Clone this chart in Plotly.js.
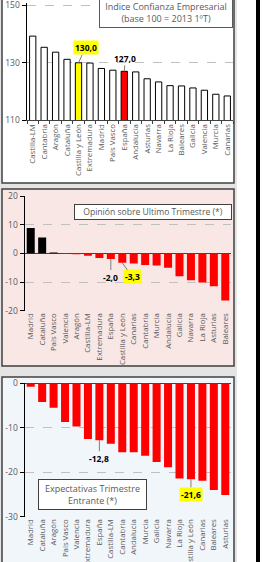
<!DOCTYPE html>
<html>
<head>
<meta charset="utf-8">
<script src="https://cdn.plot.ly/plotly-3.0.1.min.js"></script>
<style>
html,body{margin:0;padding:0;background:#fff;}
#chart{width:262px;height:562px;}
</style>
</head>
<body>
<div id="chart"></div>
<script>
// ---- Data ----
const categories1 = ['Castilla-LM','Cantabria','Aragón','Cataluña','Castilla y León','Extremadura','Madrid','País Vasco','España','Andalucía','Asturias','Navarra','La Rioja','Baleares','Galicia','Valencia','Murcia','Canarias'];
const values1 = [139.3,135.4,133.7,131.2,130.0,129.9,128.0,127.4,127.0,126.8,124.4,123.3,122.0,121.9,121.2,120.4,119.0,118.4];

const categories2 = ['Madrid','Cataluña','País Vasco','Valencia','Aragón','Castilla-LM','Extremadura','España','Castilla y León','Canarias','Cantabria','Murcia','Andalucía','Galicia','Navarra','La Rioja','Asturias','Baleares'];
const values2 = [8.8,5.5,0.3,-0.2,-0.3,-0.8,-1.6,-2.0,-3.3,-3.5,-4.1,-4.2,-5.0,-8.0,-9.4,-10.2,-11.5,-16.4];

const categories3 = ['Madrid','Cataluña','Aragón','País Vasco','Valencia','Extremadura','España','Castilla-LM','Cantabria','Andalucía','Murcia','Galicia','Navarra','La Rioja','Castilla y León','Canarias','Baleares','Asturias'];
const values3 = [-0.8,-4.2,-5.5,-8.7,-9.7,-12.5,-12.8,-13.6,-15.5,-15.5,-16.3,-17.7,-18.9,-21.4,-21.6,-21.9,-24.0,-25.1];

const yticks1 = [110,130,150];
const yticks2 = [-20,-10,0,10,20];
const yticks3 = [-30,-20,-10,0];

const title1 = 'Indice Confianza Empresarial<br>(base 100 = 2013 1ºT)';
const title2 = 'Opinión sobre Ultimo Trimestre (*)';
const title3 = 'Expectativas Trimestre<br>Entrante (*)';

const highlight = 'Castilla y León';
const national = 'España';

// ---- Helpers ----
const W = 262, H = 562;
const px = x => x / W;
const py = y => 1 - y / H;
const fmt = v => v.toFixed(1).replace('.', ',');
const FONT = '"Open Sans", "Noto Sans", sans-serif';
const GRAY = '#595959';

const colors1 = categories1.map(c => c === highlight ? '#ffff00' : (c === national ? '#ff0000' : '#ffffff'));
const colors2 = values2.map(v => v >= 0 ? '#000000' : '#ff0000');

const traces = [
  {type:'bar', x:categories1, y:values1, xaxis:'x', yaxis:'y', width:0.55,
   marker:{color:colors1, line:{color:'#000000', width:1}}, hoverinfo:'x+y'},
  {type:'bar', x:categories2, y:values2, xaxis:'x2', yaxis:'y2', width:0.7,
   marker:{color:colors2, line:{width:0}}, hoverinfo:'x+y'},
  {type:'bar', x:categories3, y:values3, xaxis:'x3', yaxis:'y3', width:0.7,
   marker:{color:'#ff0000', line:{width:0}}, hoverinfo:'x+y'}
];

const xBase = {type:'category', tickangle:-90, tickfont:{family:FONT, size:7.8, color:GRAY},
  showgrid:false, zeroline:false, fixedrange:true, automargin:false, ticklabeloverflow:'allow'};
const yBase = {tickfont:{family:FONT, size:8.5, color:GRAY}, showline:true, linecolor:'#000000', linewidth:1.5,
  ticks:'outside', ticklen:4, tickcolor:'#000000', tickwidth:1, gridcolor:'#c0c0c0', griddash:'dash', gridwidth:1,
  fixedrange:true, automargin:false, ticklabeloverflow:'allow'};

const layout = {
  width:W, height:H, margin:{l:0,r:0,t:0,b:0}, showlegend:false,
  paper_bgcolor:'#ffffff', plot_bgcolor:'rgba(0,0,0,0)',
  font:{family:FONT, color:GRAY},
  xaxis: Object.assign({}, xBase, {domain:[px(27), px(233)], anchor:'y', showline:true, linecolor:'#404040', linewidth:1,
          ticks:'outside', ticklen:3, tickcolor:'#404040', tickson:'boundaries'}),
  yaxis: Object.assign({}, yBase, {domain:[py(120), py(2.64)], anchor:'x', range:[110,151],
          tickvals:yticks1, ticktext:yticks1.map(String), zeroline:false}),
  xaxis2: Object.assign({}, xBase, {domain:[px(25), px(231)], anchor:'y2', showline:false, ticks:''}),
  yaxis2: Object.assign({}, yBase, {domain:[py(310.7), py(196)], anchor:'x2', range:[-20,20],
          tickvals:yticks2, ticktext:yticks2.map(String), zeroline:true, zerolinecolor:'#404040', zerolinewidth:1}),
  xaxis3: Object.assign({}, xBase, {domain:[px(25), px(231)], anchor:'y3', showline:false, ticks:''}),
  yaxis3: Object.assign({}, yBase, {domain:[py(516.7), py(383.3)], anchor:'x3', range:[-30,0],
          tickvals:yticks3, ticktext:yticks3.map(String), zeroline:true, zerolinecolor:'#404040', zerolinewidth:1}),
  shapes: [
    {type:'rect', xref:'paper', yref:'paper', x0:px(0), x1:px(237), y0:py(565), y1:py(-3), fillcolor:'#e4e4e4', line:{width:0}, layer:'below'},
    {type:'rect', xref:'paper', yref:'paper', x0:px(2), x1:px(234), y0:py(183), y1:py(-3), fillcolor:'#ffffff', line:{color:'#404040', width:1.5}, layer:'below'},
    {type:'rect', xref:'paper', yref:'paper', x0:px(2), x1:px(234), y0:py(366), y1:py(189), fillcolor:'#f8e7e5', line:{color:'#404040', width:1.5}, layer:'below'},
    {type:'rect', xref:'paper', yref:'paper', x0:px(2), x1:px(234), y0:py(566), y1:py(377), fillcolor:'#f1f6fb', line:{color:'#404040', width:1.5}, layer:'below'},
    {type:'rect', xref:'paper', yref:'paper', x0:px(256), x1:px(260), y0:py(562), y1:py(0), fillcolor:'#000000', line:{width:0}, layer:'below'}
  ],
  annotations: [
    {xref:'paper', yref:'paper', x:px(166), y:py(12), text:title1, showarrow:false, xanchor:'center', yanchor:'middle',
     width:130, height:27, bgcolor:'#ffffff', bordercolor:'#595959', borderwidth:1, borderpad:1,
     font:{family:FONT, size:9, color:GRAY}},
    {xref:'paper', yref:'paper', x:px(153), y:py(212), text:title2, showarrow:false, xanchor:'center', yanchor:'middle',
     width:154, height:12, bgcolor:'#ffffff', bordercolor:'#404040', borderwidth:1, borderpad:1,
     font:{family:FONT, size:8.6, color:GRAY}},
    {xref:'paper', yref:'paper', x:px(92.5), y:py(494.5), text:title3, showarrow:false, xanchor:'center', yanchor:'middle',
     width:105, height:27, bgcolor:'#ffffff', bordercolor:'#404040', borderwidth:1, borderpad:1,
     font:{family:FONT, size:9, color:GRAY}},
    // Panel 1 labels
    {xref:'x', yref:'y', x:highlight, y:values1[categories1.indexOf(highlight)], text:'<b>'+fmt(values1[categories1.indexOf(highlight)])+'</b>',
     showarrow:true, arrowhead:0, arrowwidth:1, arrowcolor:'#7f7f7f', ax:7, ay:-15, standoff:0,
     bgcolor:'#ffff00', borderpad:1, font:{family:FONT, size:8.5, color:'#000000'}},
    {xref:'x', yref:'y', x:national, y:values1[categories1.indexOf(national)], text:'<b>'+fmt(values1[categories1.indexOf(national)])+'</b>',
     showarrow:true, arrowhead:0, arrowwidth:1, arrowcolor:'#7f7f7f', ax:1, ay:-13, standoff:0,
     font:{family:FONT, size:8.5, color:'#000000'}},
    // Panel 2 labels
    {xref:'x2', yref:'y2', x:national, y:values2[categories2.indexOf(national)], text:'<b>'+fmt(values2[categories2.indexOf(national)])+'</b>',
     showarrow:true, arrowhead:0, arrowwidth:1, arrowcolor:'#7f7f7f', ax:0, ay:18, standoff:0,
     font:{family:FONT, size:8.5, color:'#000000'}},
    {xref:'x2', yref:'y2', x:highlight, y:values2[categories2.indexOf(highlight)], text:'<b>'+fmt(values2[categories2.indexOf(highlight)])+'</b>',
     showarrow:true, arrowhead:0, arrowwidth:1, arrowcolor:'#7f7f7f', ax:10, ay:14, standoff:0,
     bgcolor:'#ffff00', borderpad:1, font:{family:FONT, size:8.5, color:'#000000'}},
    // Panel 3 labels
    {xref:'x3', yref:'y3', x:national, y:values3[categories3.indexOf(national)], text:'<b>'+fmt(values3[categories3.indexOf(national)])+'</b>',
     showarrow:true, arrowhead:0, arrowwidth:1, arrowcolor:'#7f7f7f', ax:0, ay:18, standoff:0,
     font:{family:FONT, size:8.5, color:'#000000'}},
    {xref:'x3', yref:'y3', x:highlight, y:values3[categories3.indexOf(highlight)], text:'<b>'+fmt(values3[categories3.indexOf(highlight)])+'</b>',
     showarrow:true, arrowhead:0, arrowwidth:1, arrowcolor:'#7f7f7f', ax:0, ay:15, standoff:0,
     bgcolor:'#ffff00', borderpad:1, font:{family:FONT, size:8.5, color:'#000000'}}
  ]
};

Plotly.newPlot('chart', traces, layout, {staticPlot:true, displayModeBar:false});
</script>
</body>
</html>
